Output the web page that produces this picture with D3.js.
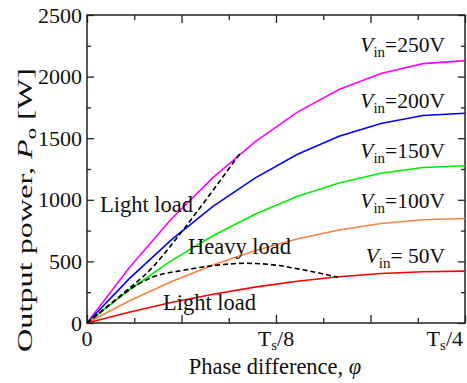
<!DOCTYPE html>
<html>
<head>
<meta charset="utf-8">
<script src="https://cdn.jsdelivr.net/npm/d3@7"></script>
<style>
  body { margin: 0; background: #fff; }
  svg text { font-family: "Liberation Serif", "Times New Roman", Times, serif; fill: #111; }
</style>
</head>
<body>
<script>
// phase difference in units of Ts (0 .. Ts/4)
var phase = [0, 0.0278, 0.0556, 0.0833, 0.1111, 0.1389, 0.1667, 0.1944, 0.2222, 0.25];

// output power [W] for each input voltage
var p250 = [0, 447, 842, 1180, 1470, 1710, 1895, 2025, 2105, 2130];
var p200 = [0, 358, 672, 946, 1176, 1368, 1516, 1620, 1684, 1702];
var p150 = [0, 268, 504, 708, 882, 1026, 1137, 1215, 1262, 1276];
var p100 = [0, 178, 335, 470, 586, 682, 755, 808, 838, 848];
var p50  = [0, 88, 166, 234, 291, 339, 376, 402, 416, 421];

// boundary lines (dashed)
var lightPhase = [0, 0.0212, 0.0437, 0.0635, 0.0827, 0.1012];
var lightPower = [0, 213, 457, 755, 1066, 1377];
var heavyPhase = [0, 0.0205, 0.0317, 0.0430, 0.0648, 0.0866, 0.1045, 0.1210, 0.1429, 0.1660];
var heavyPower = [0, 200, 300, 370, 430, 470, 485, 475, 432, 371];

var yTicks = [0, 500, 1000, 1500, 2000, 2500];
var yMinor = [250, 750, 1250, 1750, 2250];
var xMajor = [0, 0.0625, 0.125, 0.1875, 0.25];
var xMinor = [0.03125, 0.09375, 0.15625, 0.21875];

var series = [
  {name: "250V", values: p250, color: "#ff00ff"},
  {name: "200V", values: p200, color: "#0000ff"},
  {name: "150V", values: p150, color: "#00ee00"},
  {name: "100V", values: p100, color: "#ff8040"},
  {name: " 50V", values: p50,  color: "#ff0000"}
];

var FONT = '"Liberation Serif", "Times New Roman", Times, serif';

var svg = d3.select("body").append("svg")
    .attr("width", 467)
    .attr("height", 383)
    .style("font-family", FONT);

var x = d3.scaleLinear().domain([0, 0.25]).range([87, 465]);
var y = d3.scaleLinear().domain([0, 2500]).range([323, 15]);

// axes: ticks point inward on all four sides
function noLabel() { return ""; }

svg.append("g").attr("transform", "translate(87,0)")
    .call(d3.axisLeft(y).tickValues(yTicks).tickSizeInner(-7).tickSizeOuter(0)
      .tickPadding(5).tickFormat(d3.format("d")));
svg.append("g").attr("transform", "translate(87,0)")
    .call(d3.axisLeft(y).tickValues(yMinor).tickSizeInner(-4).tickSizeOuter(0).tickFormat(noLabel));
svg.append("g").attr("transform", "translate(465,0)")
    .call(d3.axisRight(y).tickValues(yTicks).tickSizeInner(-7).tickSizeOuter(0).tickFormat(noLabel));
svg.append("g").attr("transform", "translate(465,0)")
    .call(d3.axisRight(y).tickValues(yMinor).tickSizeInner(-4).tickSizeOuter(0).tickFormat(noLabel));

svg.append("g").attr("transform", "translate(0,323)")
    .call(d3.axisBottom(x).tickValues(xMajor).tickSizeInner(-8).tickSizeOuter(0).tickFormat(noLabel));
svg.append("g").attr("transform", "translate(0,323)")
    .call(d3.axisBottom(x).tickValues(xMinor).tickSizeInner(-5).tickSizeOuter(0).tickFormat(noLabel));
svg.append("g").attr("transform", "translate(0,15)")
    .call(d3.axisTop(x).tickValues(xMajor).tickSizeInner(-8).tickSizeOuter(0).tickFormat(noLabel));
svg.append("g").attr("transform", "translate(0,15)")
    .call(d3.axisTop(x).tickValues(xMinor).tickSizeInner(-5).tickSizeOuter(0).tickFormat(noLabel));

svg.selectAll("g").attr("font-family", null).attr("font-size", null);
svg.selectAll(".domain").remove();
svg.selectAll(".tick line").attr("stroke", "#222").attr("stroke-width", 1.3);
svg.selectAll(".tick text")
    .style("font-family", FONT)
    .style("font-size", "22px")
    .attr("fill", "#111");

// frame
svg.append("rect")
    .attr("x", 87).attr("y", 15)
    .attr("width", 378).attr("height", 308)
    .attr("fill", "none")
    .attr("stroke", "#222")
    .attr("stroke-width", 1.5);

// x tick labels
svg.append("text").attr("x", x(0)).attr("y", 346)
    .attr("text-anchor", "middle").style("font-size", "22px").text("0");

function tsLabel(txt, xpos, anchor) {
  var t = svg.append("text").attr("x", xpos).attr("y", 346)
      .attr("text-anchor", anchor).style("font-size", "22px");
  t.append("tspan").text("T");
  t.append("tspan").attr("dy", 4).style("font-size", "15px").text("s");
  t.append("tspan").attr("dy", -4).text(txt);
}
tsLabel("/8", x(0.125), "middle");
tsLabel("/4", x(0.25) - 2, "end");

// axis titles
var xt = svg.append("text").attr("x", 275).attr("y", 374)
    .attr("text-anchor", "middle").style("font-size", "22.5px");
xt.append("tspan").text("Phase difference, ");
xt.append("tspan").style("font-style", "italic").text("φ");

var yt = svg.append("text")
    .attr("text-anchor", "middle")
    .style("font-size", "20px");
yt.append("tspan").text("Output power, ");
yt.append("tspan").style("font-style", "italic").text("P");
yt.append("tspan").attr("dy", 4).style("font-size", "14px").text("o");
yt.append("tspan").attr("dy", -4).text(" [W]");
var yw = yt.node().getComputedTextLength();
yt.attr("transform", "translate(32,210) rotate(-90) scale(" + (284 / yw) + ",1)");

// curves
var line = d3.line()
    .x(function(d) { return x(d[0]); })
    .y(function(d) { return y(d[1]); });

series.forEach(function(s) {
  svg.append("path")
      .datum(phase.map(function(p, i) { return [p, s.values[i]]; }))
      .attr("fill", "none")
      .attr("stroke", s.color)
      .attr("stroke-width", 1.6)
      .attr("d", line);
});

var dashLine = d3.line()
    .x(function(d) { return x(d[0]); })
    .y(function(d) { return y(d[1]); })
    .curve(d3.curveMonotoneX);

[[lightPhase, lightPower], [heavyPhase, heavyPower]].forEach(function(b) {
  svg.append("path")
      .datum(b[0].map(function(p, i) { return [p, b[1][i]]; }))
      .attr("fill", "none")
      .attr("stroke", "#000")
      .attr("stroke-width", 1.6)
      .attr("stroke-dasharray", "5,3")
      .attr("d", dashLine);
});

// series labels
var labelY = [52, 108, 158, 208, 263];
series.forEach(function(s, i) {
  var t = svg.append("text").attr("x", 445).attr("y", labelY[i])
      .attr("text-anchor", "end").style("font-size", "21.5px");
  t.append("tspan").style("font-style", "italic").text("V");
  t.append("tspan").attr("dy", 5).style("font-size", "15px").text("in");
  t.append("tspan").attr("dy", -5).text("=" + s.name);
});

// region annotations
svg.append("text").attr("x", 100).attr("y", 212).style("font-size", "22.5px").text("Light load");
svg.append("text").attr("x", 188).attr("y", 254).style("font-size", "22.5px").text("Heavy load");
svg.append("text").attr("x", 163).attr("y", 310).style("font-size", "22.5px").text("Light load");
</script>
</body>
</html>
